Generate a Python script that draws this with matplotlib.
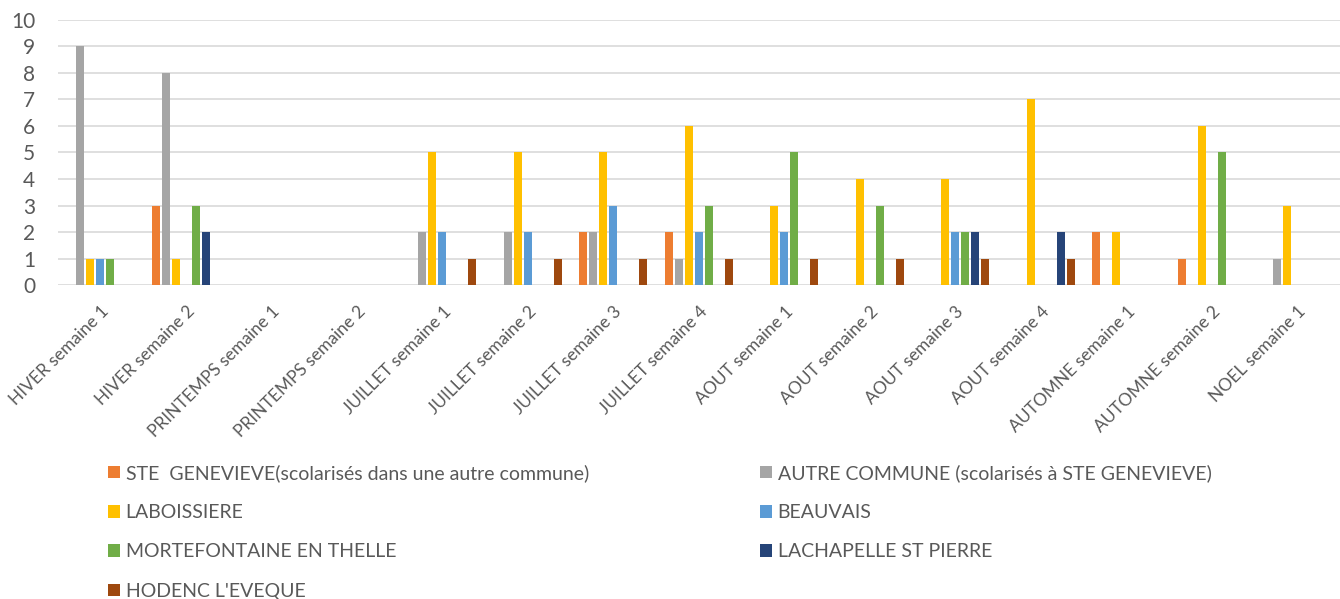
import numpy as np
import matplotlib
matplotlib.use("Agg")
import matplotlib.pyplot as plt
import matplotlib.transforms as mtransforms

plt.rcParams['font.family'] = ['Lato', 'DejaVu Sans']

# === Données ===
categories = ["HIVER semaine 1", "HIVER semaine 2", "PRINTEMPS semaine 1",
              "PRINTEMPS semaine 2", "JUILLET semaine 1", "JUILLET semaine 2",
              "JUILLET semaine 3", "JUILLET semaine 4", "AOUT semaine 1",
              "AOUT semaine 2", "AOUT semaine 3", "AOUT semaine 4",
              "AUTOMNE semaine 1", "AUTOMNE semaine 2", "NOEL semaine 1"]

series_names = ["STE  GENEVIEVE(scolarisés dans une autre commune)",
                "AUTRE COMMUNE (scolarisés à STE GENEVIEVE)",
                "LABOISSIERE",
                "BEAUVAIS",
                "MORTEFONTAINE EN THELLE",
                "LACHAPELLE ST PIERRE",
                "HODENC L'EVEQUE"]

ste_genevieve = [0, 3, 0, 0, 0, 0, 2, 2, 0, 0, 0, 0, 2, 1, 0]
autre_commune = [9, 8, 0, 0, 2, 2, 2, 1, 0, 0, 0, 0, 0, 0, 1]
laboissiere   = [1, 1, 0, 0, 5, 5, 5, 6, 3, 4, 4, 7, 2, 6, 3]
beauvais      = [1, 0, 0, 0, 2, 2, 3, 2, 2, 0, 2, 0, 0, 0, 0]
mortefontaine = [1, 3, 0, 0, 0, 0, 0, 3, 5, 3, 2, 0, 0, 5, 0]
lachapelle    = [0, 2, 0, 0, 0, 0, 0, 0, 0, 0, 2, 2, 0, 0, 0]
hodenc        = [0, 0, 0, 0, 1, 1, 1, 1, 1, 1, 1, 1, 0, 0, 0]

colors = ["#ED7D31", "#A5A5A5", "#FFC000", "#5B9BD5",
          "#70AD47", "#264478", "#9E480E"]

all_series = [ste_genevieve, autre_commune, laboissiere, beauvais,
              mortefontaine, lachapelle, hodenc]

# === Graphique ===
fig = plt.figure(figsize=(13.4, 5.99), dpi=100)
ax = fig.add_axes([0.043, 0.524, 0.957, 0.443])

x = np.arange(len(categories))
slot = 0.117
bw = 0.094
handles = []
for i, (vals, col) in enumerate(zip(all_series, colors)):
    off = (i - 3) * slot
    b = ax.bar(x + off, vals, width=bw, color=col, zorder=3)
    handles.append(b)

ax.set_xlim(-0.5, len(categories) - 0.5)
ax.set_ylim(0, 10)
ax.set_yticks(range(0, 11))
ax.yaxis.grid(True, color="#D9D9D9", linewidth=1.2, zorder=0)
ax.set_axisbelow(True)
for s in ax.spines.values():
    s.set_visible(False)

ax.set_xticks(x)
ax.set_xticklabels(categories, rotation=45, ha="right", va="center",
                   rotation_mode="anchor", fontsize=12.5, color="#595959")
ax.tick_params(axis="x", length=0, pad=17)
ax.tick_params(axis="y", length=0, pad=16, labelsize=15, labelcolor="#595959")

# petit decalage des etiquettes vers la droite
shift = mtransforms.ScaledTranslation(6 / 100, 0, fig.dpi_scale_trans)
for lab in ax.get_xticklabels():
    lab.set_transform(lab.get_transform() + shift)

# legende en deux colonnes, ordre par ligne
kw = dict(frameon=False, fontsize=14, labelcolor="#595959",
          handlelength=0.62, handleheight=0.62, handletextpad=0.3,
          labelspacing=1.15, loc="upper left", borderaxespad=0)
fig.legend([handles[i] for i in (0, 2, 4, 6)],
           [series_names[i] for i in (0, 2, 4, 6)],
           bbox_to_anchor=(100 / 1340, 1 - 456 / 599), **kw)
fig.legend([handles[i] for i in (1, 3, 5)],
           [series_names[i] for i in (1, 3, 5)],
           bbox_to_anchor=(752 / 1340, 1 - 456 / 599), **kw)

fig.savefig("out.png", dpi=100)
